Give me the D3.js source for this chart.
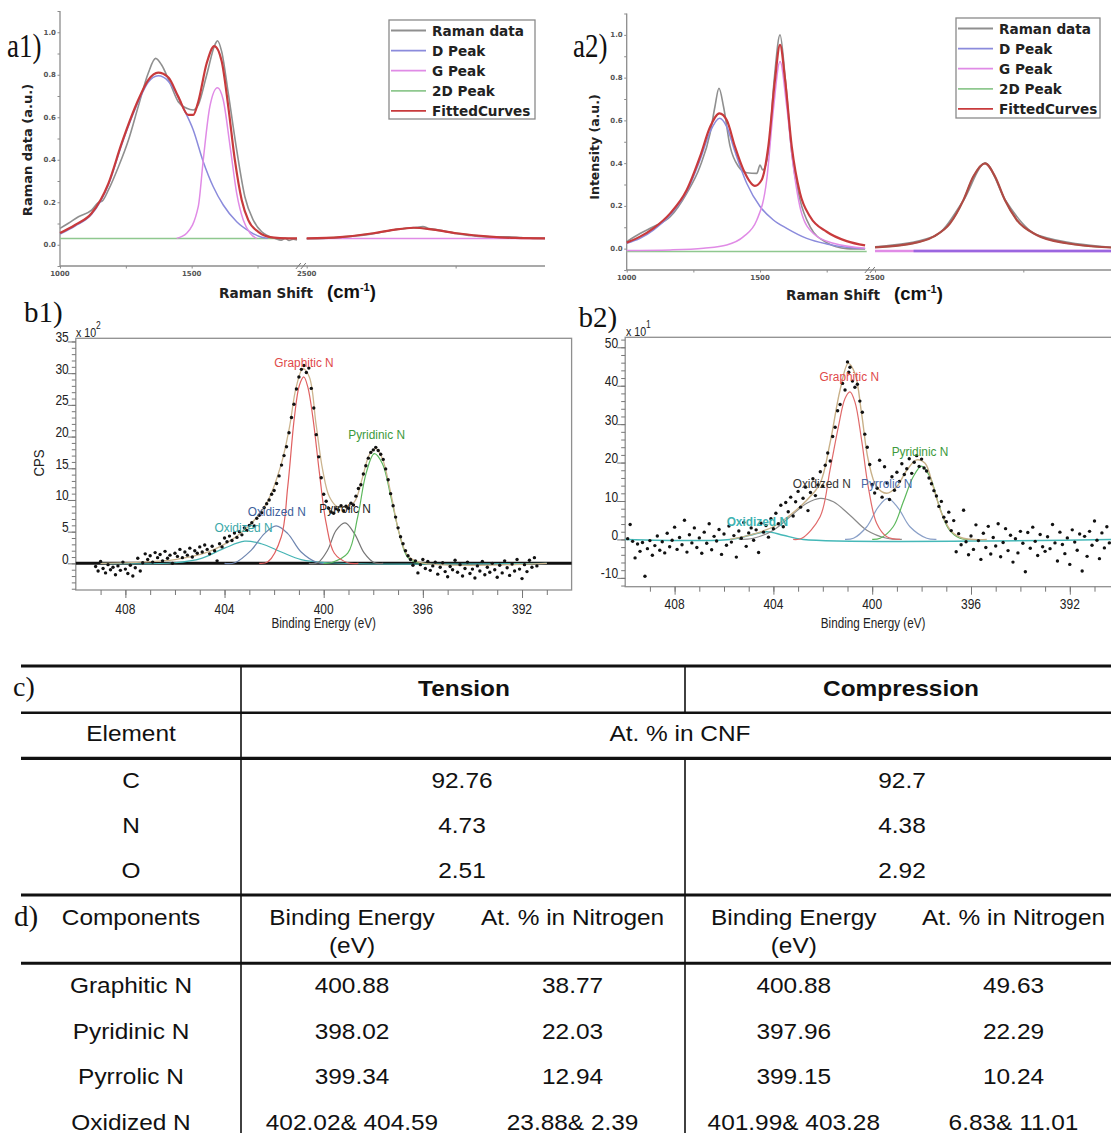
<!DOCTYPE html>
<html>
<head>
<meta charset="utf-8">
<title>Raman and XPS of CNF</title>
<script src="https://cdn.jsdelivr.net/npm/d3@7/dist/d3.min.js"></script>
<style>
  body { margin: 0; background: #fff; }
  svg { display: block; }
</style>
</head>
<body>
<svg id="fig" width="1111" height="1133"></svg>
<script>
// ---------- Raman (a1, a2) ----------
const leftShift = [1000, 1900];
const rightShift = [2500, 3300];
const ramanY = [-0.1, 1.1];
const ramanMajorY = [0, 0.2, 0.4, 0.6, 0.8, 1.0];
const ramanMinorY = [-0.1, 0, 0.1, 0.2, 0.3, 0.4, 0.5, 0.6, 0.7, 0.8, 0.9, 1.0, 1.1];
const ramanLabelX = [1000, 1500];
const ramanMinorX = [1250, 1750];
const ramanLabelXR = [2500];
const ramanMinorXR = [3000];
const legendNames = ['Raman data', 'D Peak', 'G Peak', '2D Peak', 'FittedCurves'];
const legendColors = ['#8f8f8f', '#8b8bdc', '#e08be6', '#8fc88f', '#c83a3c'];

const a1Data = [[1000,0.077],[1032,0.101],[1070,0.132],[1120,0.163],[1145,0.198],[1160,0.205],[1184,0.258],[1222,0.367],[1260,0.493],[1297,0.650],[1335,0.807],[1363,0.877],[1386,0.846],[1418,0.760],[1449,0.673],[1481,0.642],[1506,0.634],[1525,0.658],[1557,0.799],[1588,0.940],[1598,0.960],[1614,0.909],[1639,0.713],[1671,0.446],[1702,0.226],[1734,0.116],[1766,0.061],[1817,0.030],[1840,0.022],[1855,0.030],[1870,0.020],[1885,0.026],[1900,0.022]];
const a1DataR = [[2500,0.028],[2560,0.030],[2612,0.034],[2670,0.042],[2724,0.052],[2760,0.062],[2800,0.072],[2840,0.078],[2870,0.082],[2890,0.086],[2910,0.076],[2935,0.072],[2970,0.062],[3004,0.052],[3060,0.042],[3115,0.037],[3170,0.038],[3220,0.034],[3260,0.030],[3300,0.030]];
const a1D = [[1000,0.050],[1057,0.088],[1120,0.143],[1184,0.283],[1234,0.470],[1297,0.672],[1335,0.765],[1373,0.795],[1411,0.770],[1449,0.695],[1468,0.644],[1506,0.540],[1544,0.391],[1582,0.273],[1620,0.187],[1671,0.108],[1722,0.061],[1766,0.035],[1790,0.030]];
const a1G = [[1443,0.030],[1481,0.054],[1525,0.179],[1544,0.399],[1569,0.650],[1598,0.739],[1620,0.681],[1646,0.462],[1671,0.242],[1696,0.116],[1722,0.054],[1747,0.030]];
const a1GR = [[2500,0.030],[3300,0.030]];
const a12D = [[1000,0.030],[1900,0.030]];
const a12DR = [[2500,0.030],[2612,0.036],[2724,0.054],[2791,0.070],[2858,0.080],[2925,0.071],[3004,0.054],[3115,0.038],[3200,0.032],[3300,0.030]];
const a1Fit = [[1000,0.055],[1057,0.093],[1120,0.148],[1184,0.289],[1234,0.477],[1297,0.681],[1335,0.775],[1373,0.810],[1411,0.788],[1449,0.697],[1487,0.611],[1506,0.611],[1525,0.673],[1557,0.854],[1586,0.935],[1614,0.864],[1639,0.650],[1664,0.399],[1690,0.211],[1715,0.116],[1753,0.061],[1804,0.035],[1867,0.030],[1900,0.030]];
const a1FitR = [[2500,0.030],[2612,0.036],[2724,0.054],[2791,0.070],[2858,0.080],[2925,0.071],[3004,0.054],[3115,0.038],[3200,0.032],[3300,0.030]];

const a2Data = [[1000,0.033],[1050,0.071],[1100,0.102],[1163,0.149],[1225,0.259],[1275,0.384],[1313,0.540],[1331,0.665],[1346,0.750],[1363,0.665],[1388,0.477],[1419,0.384],[1450,0.355],[1488,0.352],[1500,0.391],[1510,0.368],[1531,0.446],[1553,0.789],[1575,1.000],[1594,0.805],[1619,0.446],[1650,0.228],[1688,0.102],[1750,0.028],[1825,0.000],[1894,-0.002]];
const a2DataR = [[2500,0.008],[2700,0.058],[2800,0.230],[2871,0.400],[2940,0.225],[3050,0.062],[3300,0.006]];
const a2D = [[1000,0.025],[1050,0.048],[1100,0.087],[1163,0.157],[1225,0.266],[1275,0.415],[1313,0.547],[1348,0.610],[1375,0.571],[1406,0.454],[1450,0.306],[1500,0.197],[1550,0.134],[1600,0.095],[1675,0.048],[1750,0.022],[1825,0.006],[1894,0.000]];
const a2DR = [[2630,-0.011],[3300,-0.011]];
const a2G = [[1000,-0.009],[1163,-0.006],[1288,0.002],[1375,0.017],[1438,0.056],[1488,0.134],[1525,0.321],[1550,0.649],[1575,0.875],[1600,0.665],[1625,0.384],[1656,0.165],[1700,0.071],[1775,0.025],[1894,0.002]];
const a2GR = [[2500,-0.011],[3300,-0.011]];
const a22D = [[1000,-0.013],[1900,-0.013]];
const a22DR = [[2500,0.006],[2618,0.022],[2697,0.056],[2753,0.118],[2798,0.227],[2831,0.336],[2871,0.399],[2905,0.336],[2938,0.227],[2978,0.134],[3045,0.064],[3146,0.025],[3300,0.005]];
const a2Fit = [[1000,0.028],[1050,0.056],[1100,0.095],[1163,0.165],[1225,0.274],[1275,0.430],[1313,0.570],[1348,0.633],[1375,0.602],[1406,0.477],[1438,0.368],[1481,0.294],[1506,0.321],[1531,0.477],[1556,0.789],[1575,0.953],[1594,0.789],[1619,0.477],[1650,0.259],[1688,0.149],[1750,0.079],[1825,0.035],[1894,0.015]];
const a2FitR = [[2500,0.006],[2618,0.022],[2697,0.056],[2753,0.118],[2798,0.227],[2831,0.336],[2871,0.399],[2905,0.336],[2938,0.227],[2978,0.134],[3045,0.064],[3146,0.025],[3300,0.005]];

// ---------- XPS N1s (b1, b2) ----------
const bindingEnergy = [410, 390];
const beLabels = [408, 404, 400, 396, 392];
const beTicks = [409, 408, 407, 406, 405, 404, 403, 402, 401, 400, 399, 398, 397, 396, 395, 394, 393, 392, 391];
const b1YLabels = [0, 5, 10, 15, 20, 25, 30, 35];
const b1YTicks = [-4, -3, -2, -1, 0, 1, 2, 3, 4, 5, 6, 7, 8, 9, 10, 11, 12, 13, 14, 15, 16, 17, 18, 19, 20, 21, 22, 23, 24, 25, 26, 27, 28, 29, 30, 31, 32, 33, 34, 35];
const b2YLabels = [-10, 0, 10, 20, 30, 40, 50];
const b2YTicks = [-12, -10, -8, -6, -4, -2, 0, 2, 4, 6, 8, 10, 12, 14, 16, 18, 20, 22, 24, 26, 28, 30, 32, 34, 36, 38, 40, 42, 44, 46, 48, 50, 52];

const b1Points = [[409.2,-0.5],[409.1,-1.2],[409.0,0.3],[408.9,-0.8],[408.8,-1.5],[408.7,-0.2],[408.6,-1.0],[408.5,-0.6],[408.4,-1.8],[408.3,-0.4],[408.2,-1.1],[408.1,0.2],[408.0,-0.9],[407.9,-1.6],[407.8,-0.3],[407.7,-2.0],[407.6,-0.7],[407.5,0.8],[407.4,-1.2],[407.3,0.1],[407.2,1.5],[407.1,0.6],[407.0,1.2],[406.9,0.2],[406.8,1.7],[406.7,0.9],[406.6,1.4],[406.5,0.4],[406.4,1.9],[406.3,0.8],[406.2,1.3],[406.1,0.0],[406.0,1.6],[405.9,1.1],[405.8,2.2],[405.7,0.9],[405.6,1.8],[405.5,1.3],[405.4,2.4],[405.3,1.0],[405.2,2.0],[405.1,1.6],[405.0,2.6],[404.9,1.8],[404.8,2.9],[404.7,2.2],[404.6,1.5],[404.5,2.7],[404.4,2.0],[404.3,0.4],[404.2,3.1],[404.1,2.6],[404.0,4.0],[403.9,3.4],[403.8,4.3],[403.7,3.6],[403.6,4.8],[403.5,4.1],[403.4,5.0],[403.3,4.5],[403.2,5.6],[403.1,5.2],[403.0,6.0],[402.9,6.4],[402.8,5.9],[402.7,7.1],[402.6,7.6],[402.5,8.0],[402.4,8.8],[402.3,9.4],[402.2,10.0],[402.1,10.9],[402.0,11.5],[401.9,12.6],[401.8,13.8],[401.7,15.5],[401.6,17.0],[401.5,18.4],[401.4,20.6],[401.3,23.0],[401.2,25.1],[401.1,27.5],[401.0,29.4],[400.9,30.6],[400.8,31.2],[400.7,30.1],[400.6,30.8],[400.5,27.6],[400.4,24.5],[400.3,20.3],[400.2,16.8],[400.1,13.5],[400.0,10.9],[399.9,9.8],[399.8,8.7],[399.7,8.1],[399.6,7.9],[399.5,8.6],[399.4,8.4],[399.3,9.1],[399.2,8.3],[399.1,9.0],[399.0,8.7],[398.9,9.5],[398.8,9.2],[398.7,10.6],[398.6,11.8],[398.5,12.4],[398.4,14.1],[398.3,15.4],[398.2,16.6],[398.1,17.5],[398.0,17.9],[397.9,18.3],[397.8,17.8],[397.7,17.2],[397.6,16.4],[397.5,14.9],[397.4,13.2],[397.3,11.0],[397.2,9.1],[397.1,7.3],[397.0,5.6],[396.9,4.2],[396.8,3.1],[396.7,2.0],[396.6,1.2],[396.5,0.6],[396.4,-0.3],[396.3,0.4],[396.2,-1.5],[396.1,-0.2],[396.0,0.6],[395.9,-0.8],[395.8,0.3],[395.7,-1.1],[395.6,-0.4],[395.5,0.2],[395.4,-1.7],[395.3,-0.6],[395.2,0.1],[395.1,-1.3],[395.0,-2.1],[394.9,-0.5],[394.8,-1.0],[394.7,0.5],[394.6,-1.4],[394.5,-0.2],[394.4,-2.0],[394.3,-0.8],[394.2,0.2],[394.1,-1.6],[394.0,-0.9],[393.9,-2.3],[393.8,-0.4],[393.7,-1.2],[393.6,0.3],[393.5,-1.8],[393.4,-0.6],[393.3,-1.4],[393.2,0.0],[393.1,-1.0],[393.0,-2.2],[392.9,-0.3],[392.8,-1.5],[392.7,0.4],[392.6,-0.7],[392.5,-1.9],[392.4,-0.1],[392.3,-1.2],[392.2,0.6],[392.1,-0.9],[392.0,-2.4],[391.9,-0.2],[391.8,-1.3],[391.7,0.5],[391.6,-0.6],[391.5,0.9],[391.4,-0.4]];
const b1Graphitic = [[402.6,0],[402.25,0.25],[401.71,4.2],[401.45,12.1],[401.18,23.1],[400.98,28.1],[400.80,29.4],[400.64,27.8],[400.44,23.1],[400.17,14.2],[399.90,6.3],[399.57,1.6],[399.03,0.1],[398.6,0]];
const b1Pyridinic = [[400.0,0],[399.70,0.1],[399.03,1.6],[398.63,7.3],[398.29,14.2],[397.96,17.3],[397.63,15.7],[397.29,10.5],[396.95,4.7],[396.62,1.0],[396.22,0.1],[395.8,0]];
const b1Pyrrolic = [[400.6,0],[400.24,0.1],[399.84,2.1],[399.50,5.2],[399.14,6.4],[398.76,4.7],[398.36,1.6],[397.96,0.1],[397.6,0]];
const b1OxidizedA = [[404.0,0],[403.59,0.1],[402.92,2.1],[402.39,4.7],[401.92,5.9],[401.45,4.7],[400.91,1.8],[400.24,0.1],[399.9,0]];
const b1OxidizedB = [[409.0,0],[406.01,0.1],[404.93,0.8],[404.0,2.4],[403.19,3.5],[402.52,3.1],[401.71,1.8],[400.91,0.6],[399.84,0.1],[391.0,0]];
const b1Envelope = [[409.0,0],[406.0,0.6],[404.66,1.8],[403.72,3.7],[402.92,6.3],[402.25,9.9],[401.71,15.7],[401.38,21.5],[401.11,27.8],[400.84,30.7],[400.58,29.4],[400.31,22.0],[400.04,14.7],[399.77,10.5],[399.44,8.9],[399.10,8.9],[398.76,9.7],[398.43,13.6],[398.16,17.1],[397.89,18.1],[397.63,16.5],[397.29,11.0],[396.95,4.7],[396.62,1.3],[396.09,0.1],[391.0,0]];

const b2Points = [[409.9,0.2],[409.8,3.9],[409.7,-0.5],[409.6,-4.8],[409.5,-1.2],[409.4,-3.1],[409.3,-0.8],[409.2,-9.6],[409.1,-2.4],[409.0,-0.3],[408.9,-4.1],[408.8,-1.6],[408.7,0.9],[408.6,-2.8],[408.5,-0.6],[408.4,-3.5],[408.3,1.6],[408.2,-1.9],[408.1,-0.2],[408.0,3.2],[407.9,-2.6],[407.8,0.5],[407.7,-1.4],[407.6,5.0],[407.5,-3.3],[407.4,1.2],[407.3,-0.9],[407.2,3.0],[407.1,-2.1],[407.0,0.4],[406.9,-3.6],[406.8,1.9],[406.7,-1.0],[406.6,4.1],[406.5,-2.7],[406.4,0.8],[406.3,-0.4],[406.2,2.6],[406.1,-3.9],[406.0,1.4],[405.9,-1.5],[405.8,3.5],[405.7,-0.7],[405.6,1.0],[405.5,-4.6],[405.4,2.2],[405.3,0.3],[405.2,4.4],[405.1,-1.8],[405.0,1.7],[404.9,3.0],[404.8,-0.2],[404.7,2.5],[404.6,-3.4],[404.5,4.2],[404.4,1.9],[404.3,3.6],[404.2,0.6],[404.1,5.4],[404.0,2.8],[403.9,6.8],[403.8,4.1],[403.7,8.9],[403.6,3.3],[403.5,9.6],[403.4,7.2],[403.3,11.0],[403.2,6.1],[403.1,9.8],[403.0,12.5],[402.9,8.4],[402.8,10.7],[402.7,13.6],[402.6,7.5],[402.5,12.2],[402.4,15.8],[402.3,11.4],[402.2,14.2],[402.1,17.6],[402.0,13.9],[401.9,19.3],[401.8,22.5],[401.7,20.4],[401.6,26.8],[401.5,29.2],[401.4,33.5],[401.3,35.1],[401.2,40.6],[401.1,38.9],[401.0,46.2],[400.95,43.5],[400.9,44.8],[400.8,41.2],[400.7,39.6],[400.6,40.4],[400.5,36.0],[400.4,33.1],[400.3,27.4],[400.2,24.0],[400.1,19.5],[400.0,14.3],[399.9,12.1],[399.8,13.3],[399.7,20.6],[399.6,11.0],[399.5,18.9],[399.4,14.7],[399.3,10.4],[399.2,16.3],[399.1,12.8],[399.0,17.5],[398.9,15.1],[398.8,19.7],[398.7,16.9],[398.6,18.4],[398.5,21.0],[398.4,17.2],[398.3,20.1],[398.2,21.8],[398.1,19.0],[398.0,20.9],[397.9,18.6],[397.8,17.8],[397.7,16.0],[397.6,14.5],[397.5,12.7],[397.4,11.3],[397.3,8.6],[397.2,9.9],[397.1,5.8],[397.0,4.6],[396.9,7.1],[396.8,2.3],[396.7,4.9],[396.6,-3.2],[396.5,1.5],[396.4,-1.4],[396.3,7.6],[396.2,-0.6],[396.1,-4.0],[396.0,0.9],[395.9,-2.6],[395.8,3.8],[395.7,-0.3],[395.6,-5.2],[395.5,1.6],[395.4,-2.1],[395.3,3.4],[395.2,-3.8],[395.1,0.5],[395.0,-1.7],[394.9,4.1],[394.8,-4.5],[394.7,-0.8],[394.6,2.8],[394.5,-2.9],[394.4,1.1],[394.3,-5.9],[394.2,0.2],[394.1,-3.5],[394.0,2.1],[393.9,-1.0],[393.8,-8.4],[393.7,1.8],[393.6,-2.3],[393.5,3.2],[393.4,-0.5],[393.3,-4.2],[393.2,1.3],[393.1,-1.9],[393.0,-3.1],[392.9,0.7],[392.8,-2.4],[392.7,3.9],[392.6,-0.9],[392.5,-5.6],[392.4,1.9],[392.3,-1.3],[392.2,-3.7],[392.1,0.4],[392.0,-6.5],[391.9,2.5],[391.8,-0.7],[391.7,-2.8],[391.6,1.4],[391.5,-8.2],[391.4,0.8],[391.3,-4.4],[391.2,2.1],[391.1,-1.5],[391.0,4.8],[390.9,-0.2],[390.8,-5.0],[390.7,1.7],[390.6,-2.2],[390.5,3.3],[390.4,-0.9]];
const b2Graphitic = [[403.2,0],[402.85,0.3],[402.11,5.9],[401.71,18.0],[401.37,29.3],[401.10,36.7],[400.90,38.4],[400.70,35.8],[400.43,25.9],[400.16,13.7],[399.82,4.2],[399.41,0.7],[398.87,0]];
const b2Pyridinic = [[400.0,0],[399.68,0.3],[399.15,3.3],[398.74,9.8],[398.34,16.3],[398.0,19.1],[397.66,16.3],[397.32,9.4],[396.92,2.9],[396.45,0.3],[396.0,0]];
const b2Pyrrolic = [[401.1,0],[400.76,0.3],[400.22,3.3],[399.75,8.5],[399.37,10.7],[398.94,8.1],[398.47,3.3],[397.79,0.3],[397.4,0]];
const b2OxidizedA = [[405.4,0],[404.81,0.3],[404.0,2.4],[403.33,5.9],[402.65,9.4],[402.11,10.7],[401.57,9.8],[400.90,6.3],[400.22,2.4],[399.41,0.3],[398.8,0]];
const b2OxidizedB = [[410.0,0],[405.76,0],[404.95,1.1],[404.27,2.0],[403.60,1.1],[402.79,0],[390.3,0]];
const b2Envelope = [[405.76,0],[404.81,1.4],[404.0,3.3],[403.33,6.3],[402.65,10.2],[402.11,14.6],[401.71,25.0],[401.30,38.9],[400.97,45.8],[400.70,43.2],[400.43,32.8],[400.16,20.7],[399.82,13.7],[399.41,12.0],[399.01,13.7],[398.60,18.0],[398.20,20.7],[397.86,19.8],[397.53,13.7],[397.19,6.8],[396.78,2.0],[396.31,0.3],[395.36,0]];

// ---------- tables (c, d) ----------
const conditions = ['Tension', 'Compression'];
const elements = ['C', 'N', 'O'];
const tensionAt = ['92.76', '4.73', '2.51'];
const compressionAt = ['92.7', '4.38', '2.92'];
const components = ['Graphitic N', 'Pyridinic N', 'Pyrrolic N', 'Oxidized N'];
const tensionBE = ['400.88', '398.02', '399.34', '402.02& 404.59'];
const tensionN = ['38.77', '22.03', '12.94', '23.88& 2.39'];
const compressionBE = ['400.88', '397.96', '399.15', '401.99& 403.28'];
const compressionN = ['49.63', '22.29', '10.24', '6.83& 11.01'];

const SANS = "'Liberation Sans', Arial, sans-serif";
const VERD = "'DejaVu Sans', Verdana, sans-serif";
const SERIF = "'Liberation Serif', 'Times New Roman', serif";

const svg = d3.select('#fig');

function txt(g, x, y, s, o = {}) {
  let tr = `translate(${x},${y})`;
  if (o.rot) tr += ` rotate(${o.rot})`;
  if (o.sx || o.sy) tr += ` scale(${o.sx || 1},${o.sy || 1})`;
  return g.append('text')
    .attr('transform', tr)
    .attr('font-family', o.font || SANS)
    .attr('font-size', o.size || 12)
    .attr('font-weight', o.bold ? 'bold' : 'normal')
    .attr('text-anchor', o.anchor || 'start')
    .attr('fill', o.fill || '#111')
    .text(s);
}

function drawRaman(p) {
  const g = svg.append('g');
  const xL = d3.scaleLinear().domain(leftShift).range(p.xL);
  const xR = d3.scaleLinear().domain(rightShift).range(p.xR);
  const y = d3.scaleLinear().domain(ramanY).range(p.y);
  const yb = p.y[0];
  const axisCol = '#8c8c8c';

  g.append('line').attr('x1', p.xL[0]).attr('x2', p.xL[0]).attr('y1', p.y[1]).attr('y2', yb)
    .attr('stroke', axisCol).attr('stroke-width', 1.3);
  g.append('line').attr('x1', p.xL[0]).attr('x2', p.xR[1]).attr('y1', yb).attr('y2', yb)
    .attr('stroke', axisCol).attr('stroke-width', 1.3);

  const yAx = g.append('g').attr('transform', `translate(${p.xL[0]},0)`)
    .call(d3.axisLeft(y).tickValues(ramanMinorY).tickSize(2.5).tickFormat(''));
  yAx.select('.domain').remove();
  yAx.selectAll('line').attr('stroke', axisCol);

  g.selectAll('.ylab').data(ramanMajorY).join('text')
    .attr('x', p.xL[0] - 4).attr('y', (d) => y(d) + 2.5)
    .attr('text-anchor', 'end').attr('font-family', VERD).attr('font-weight', 'bold')
    .attr('font-size', 7).attr('fill', '#555').text(d3.format('.1f'));

  [[xL, ramanMinorX.concat(ramanLabelX)], [xR, ramanMinorXR.concat(ramanLabelXR)]].forEach(([xs, vals]) => {
    const xa = g.append('g').attr('transform', `translate(0,${yb})`)
      .call(d3.axisBottom(xs).tickValues(vals).tickSize(2.5).tickFormat(''));
    xa.select('.domain').remove();
    xa.selectAll('line').attr('stroke', axisCol);
  });
  const xlabs = ramanLabelX.map((v) => [xL(v), v]).concat(ramanLabelXR.map((v) => [xR(v), v]));
  g.selectAll('.xlab').data(xlabs).join('text')
    .attr('x', (d) => d[0]).attr('y', yb + p.tickDy)
    .attr('text-anchor', 'middle').attr('font-family', VERD).attr('font-weight', 'bold')
    .attr('font-size', 7).attr('fill', '#555').text((d) => d[1]);

  // axis break marks
  const bx = (p.xL[1] + p.xR[0]) / 2;
  [-4, 1].forEach((dx) => {
    g.append('line').attr('x1', bx + dx - 2).attr('y1', yb + 3).attr('x2', bx + dx + 3).attr('y2', yb - 3)
      .attr('stroke', '#777').attr('stroke-width', 1);
  });

  const line = (xs) => d3.line().x((d) => xs(d[0])).y((d) => y(d[1])).curve(d3.curveMonotoneX);
  p.curves.forEach((c) => {
    const xs = c.seg === 'R' ? xR : xL;
    g.append('path').datum(c.data).attr('d', line(xs))
      .attr('fill', 'none').attr('stroke', c.color).attr('stroke-width', c.w || 1.5);
  });

  // legend
  const L = p.legend;
  g.append('rect').attr('x', L.x).attr('y', L.y).attr('width', L.w).attr('height', L.h)
    .attr('fill', '#fff').attr('stroke', '#8a8a8a').attr('stroke-width', 1.3);
  legendNames.forEach((name, i) => {
    const ly = L.y + 10.5 + i * 20.1;
    g.append('line').attr('x1', L.x + 2).attr('x2', L.x + 37).attr('y1', ly).attr('y2', ly)
      .attr('stroke', legendColors[i]).attr('stroke-width', 1.8);
    txt(g, L.x + 43, ly + 5, name, { font: VERD, bold: true, size: 13.6, fill: '#222' });
  });

  txt(g, p.tag[0], p.tag[1], p.tagText, { font: SERIF, size: 27, sy: 1.25 });
  txt(g, p.yTitle[0], p.yTitle[1], p.yTitleText, { font: VERD, bold: true, size: p.yTitleSize, rot: -90, anchor: 'middle', fill: '#222' });
  txt(g, p.xTitle[0], p.xTitle[1], 'Raman Shift', { font: VERD, bold: true, size: 13.6, fill: '#222' });
  const t = txt(g, p.xTitle[0] + 108, p.xTitle[1], '', { font: SANS, bold: true, size: 18.5, fill: '#111' });
  t.append('tspan').text('(cm');
  t.append('tspan').attr('font-size', 11).attr('dy', -7).text('-1');
  t.append('tspan').attr('dy', 7).text(')');
}

drawRaman({
  xL: [60, 297], xR: [306.7, 545], y: [266, 11], tickDy: 10,
  legend: { x: 389, y: 20, w: 146, h: 99 },
  tag: [7, 57], tagText: 'a1)',
  yTitle: [32, 150], yTitleText: 'Raman data (a.u.)', yTitleSize: 13,
  xTitle: [219, 298],
  curves: [
    { data: a12D, seg: 'L', color: legendColors[3] },
    { data: a12DR, seg: 'R', color: legendColors[3] },
    { data: a1GR, seg: 'R', color: legendColors[2] },
    { data: a1Data, seg: 'L', color: legendColors[0], w: 1.6 },
    { data: a1DataR, seg: 'R', color: legendColors[0], w: 1.6 },
    { data: a1D, seg: 'L', color: legendColors[1] },
    { data: a1G, seg: 'L', color: legendColors[2] },
    { data: a1Fit, seg: 'L', color: legendColors[4], w: 2.2 },
    { data: a1FitR, seg: 'R', color: legendColors[4], w: 2.2 },
  ],
});

drawRaman({
  xL: [626.7, 866.7], xR: [875, 1112.3], y: [270, 13.5], tickDy: 10,
  legend: { x: 956, y: 18, w: 144, h: 100 },
  tag: [573, 57], tagText: 'a2)',
  yTitle: [599, 147], yTitleText: 'Intensity (a.u.)', yTitleSize: 12.5,
  xTitle: [786, 300],
  curves: [
    { data: a22D, seg: 'L', color: legendColors[3] },
    { data: a2GR, seg: 'R', color: legendColors[2], w: 2.4 },
    { data: a2DR, seg: 'R', color: '#9a66e0', w: 2.4 },
    { data: a22DR, seg: 'R', color: legendColors[3] },
    { data: a2Data, seg: 'L', color: legendColors[0], w: 1.6 },
    { data: a2DataR, seg: 'R', color: legendColors[0], w: 1.6 },
    { data: a2D, seg: 'L', color: legendColors[1] },
    { data: a2G, seg: 'L', color: legendColors[2] },
    { data: a2Fit, seg: 'L', color: legendColors[4], w: 2.2 },
    { data: a2FitR, seg: 'R', color: '#b04a44', w: 2.2 },
  ],
});

function drawXps(p) {
  const g = svg.append('g');
  const x = d3.scaleLinear().domain(bindingEnergy).range(p.x);
  const y = d3.scaleLinear().domain(p.yDom).range(p.y);
  const frameCol = '#8f8f8f';

  g.append('rect').attr('x', p.x[0]).attr('y', p.y[1]).attr('width', p.x[1] - p.x[0]).attr('height', p.y[0] - p.y[1])
    .attr('fill', 'none').attr('stroke', frameCol).attr('stroke-width', 1.3);

  const ya = g.append('g').attr('transform', `translate(${p.x[0]},0)`)
    .call(d3.axisLeft(y).tickValues(p.yTicks).tickSize(4).tickFormat(''));
  const yb = g.append('g').attr('transform', `translate(${p.x[0]},0)`)
    .call(d3.axisLeft(y).tickValues(p.yLabels).tickSize(8).tickFormat(''));
  const xa = g.append('g').attr('transform', `translate(0,${p.y[0]})`)
    .call(d3.axisBottom(x).tickValues(beTicks).tickSize(5).tickFormat(''));
  const xb = g.append('g').attr('transform', `translate(0,${p.y[0]})`)
    .call(d3.axisBottom(x).tickValues(beLabels).tickSize(8).tickFormat(''));
  [ya, yb, xa, xb].forEach((a) => {
    a.select('.domain').remove();
    a.selectAll('line').attr('stroke', '#777');
  });

  p.yLabels.forEach((v) => {
    txt(g, p.x[0] - 7, y(v) + 0.5, String(v), { size: 15, sx: 0.8, anchor: 'end', fill: '#222' });
  });
  beLabels.forEach((v) => {
    txt(g, x(v), p.y[0] + p.xLabDy, String(v), { size: 15, sx: 0.8, anchor: 'middle', fill: '#222' });
  });
  txt(g, (p.x[0] + 495.8 / 2), p.xTitleY, 'Binding Energy (eV)', { size: 15, sx: 0.78, anchor: 'middle', fill: '#222' });

  if (p.baseline) {
    g.append('line').attr('x1', p.x[0]).attr('x2', p.x[1]).attr('y1', y(0)).attr('y2', y(0))
      .attr('stroke', '#111').attr('stroke-width', 3);
  }

  const line = d3.line().x((d) => x(d[0])).y((d) => y(d[1])).curve(d3.curveCatmullRom.alpha(0.5));
  p.curves.forEach((c) => {
    g.append('path').datum(c.data).attr('d', line)
      .attr('fill', 'none').attr('stroke', c.color).attr('stroke-width', c.w || 1.2);
  });

  g.selectAll('.pt').data(p.points).join('circle')
    .attr('cx', (d) => x(d[0])).attr('cy', (d) => y(d[1])).attr('r', 1.7).attr('fill', '#111');

  p.labels.forEach((l) => {
    txt(g, l.x, l.y + 5, l.text, { size: 13.5, sx: 0.88, anchor: 'middle', fill: l.color, bold: l.bold });
  });

  txt(g, p.tag[0], p.tag[1], p.tagText, { font: SERIF, size: 29 });
  const m = txt(g, p.mult[0], p.mult[1], 'x 10', { size: 12.5, sx: 0.85, fill: '#222' });
  m.append('tspan').attr('font-size', 10).attr('dy', -8).text(p.multExp);
  return g;
}

const b1 = drawXps({
  x: [75.8, 571.6], y: [590, 338.3], yDom: [-4.2, 35.5],
  yTicks: b1YTicks, yLabels: b1YLabels, xLabDy: 23.5, xTitleY: 628,
  baseline: true,
  tag: [24, 321.7], tagText: 'b1)',
  mult: [76, 337], multExp: '2',
  points: b1Points,
  curves: [
    { data: b1OxidizedB, color: '#45b4b4' },
    { data: b1OxidizedA, color: '#6f86b0' },
    { data: b1Pyrrolic, color: '#777' },
    { data: b1Pyridinic, color: '#5cb85c' },
    { data: b1Graphitic, color: '#e06060' },
    { data: b1Envelope, color: '#cbb48e', w: 1.3 },
  ],
  labels: [
    { text: 'Graphitic N', x: 304, y: 361.7, color: '#e04a4a' },
    { text: 'Pyridinic N', x: 376.6, y: 433.5, color: '#3c9a3c' },
    { text: 'Pyrrolic N', x: 345, y: 508.3, color: '#222' },
    { text: 'Oxidized N', x: 276.7, y: 510.5, color: '#3d5f9c' },
    { text: 'Oxidized N', x: 243.5, y: 527, color: '#3aa8a8' },
  ],
});
txt(b1, 44, 463, 'CPS', { size: 15, sx: 0.88, rot: -90, anchor: 'middle', fill: '#222' });

drawXps({
  x: [625.2, 1119.2], y: [586.7, 337.3], yDom: [-12.3, 52.6],
  yTicks: b2YTicks, yLabels: b2YLabels, xLabDy: 22.5, xTitleY: 628,
  baseline: false,
  tag: [578.6, 326.7], tagText: 'b2)',
  mult: [626, 336], multExp: '1',
  points: b2Points,
  curves: [
    { data: b2OxidizedB, color: '#45b8b8', w: 1.5 },
    { data: b2OxidizedA, color: '#8a8a8a' },
    { data: b2Pyrrolic, color: '#8aa0c8' },
    { data: b2Pyridinic, color: '#5cb85c' },
    { data: b2Graphitic, color: '#e06a6a' },
    { data: b2Envelope, color: '#c8b088', w: 1.4 },
  ],
  labels: [
    { text: 'Graphitic N', x: 849.3, y: 376, color: '#e04a4a' },
    { text: 'Pyridinic N', x: 920, y: 450.7, color: '#3c9a3c' },
    { text: 'Pyrrolic N', x: 886.7, y: 483.3, color: '#4a6aa8' },
    { text: 'Oxidized N', x: 821.7, y: 483.3, color: '#333' },
    { text: 'Oxidized N', x: 757.3, y: 520.7, color: '#3fb3b3', bold: true },
  ],
});

// ---------- table ----------
const tg = svg.append('g');
const rule = (x1, y1, x2, y2, w) => tg.append('line').attr('x1', x1).attr('y1', y1).attr('x2', x2).attr('y2', y2)
  .attr('stroke', '#111').attr('stroke-width', w);
rule(21, 666, 1111, 666, 3.2);
rule(21, 712.7, 1111, 712.7, 2.4);
rule(21, 758.3, 1111, 758.3, 3.2);
rule(21, 895, 1111, 895, 3);
rule(21, 963.3, 1111, 963.3, 3);
rule(241, 666, 241, 1133, 1.6);
rule(685, 666, 685, 712.7, 1.6);
rule(685, 758.3, 685, 1133, 1.6);

const T = { size: 22, sx: 1.11, anchor: 'middle', fill: '#111' };
const headX = d3.scalePoint().domain(conditions).range([464, 901]);
conditions.forEach((c) => txt(tg, headX(c), 696, c, { ...T, bold: true }));
txt(tg, 131, 741, 'Element', T);
txt(tg, 680, 741, 'At. % in CNF', T);

const rowC = d3.scalePoint().domain(elements).range([780, 870]);
elements.forEach((e, i) => {
  const yy = rowC(e) + 8;
  txt(tg, 131, yy, e, T);
  txt(tg, 462, yy, tensionAt[i], T);
  txt(tg, 902, yy, compressionAt[i], T);
});

txt(tg, 131, 925, 'Components', T);
const colD = [352, 572.6, 793.8, 1013.5];
[0, 2].forEach((k) => {
  txt(tg, colD[k], 925, 'Binding Energy', T);
  txt(tg, colD[k], 953, '(eV)', T);
  txt(tg, colD[k + 1], 925, 'At. % in Nitrogen', T);
});

const rowD = d3.scalePoint().domain(components).range([985, 1121.7]);
components.forEach((c, i) => {
  const yy = rowD(c) + 8;
  txt(tg, 131, yy, c, T);
  txt(tg, colD[0], yy, tensionBE[i], T);
  txt(tg, colD[1], yy, tensionN[i], T);
  txt(tg, colD[2], yy, compressionBE[i], T);
  txt(tg, colD[3], yy, compressionN[i], T);
});

txt(tg, 13, 696, 'c)', { font: SERIF, size: 28 });
txt(tg, 14, 926, 'd)', { font: SERIF, size: 29 });
</script>
</body>
</html>
